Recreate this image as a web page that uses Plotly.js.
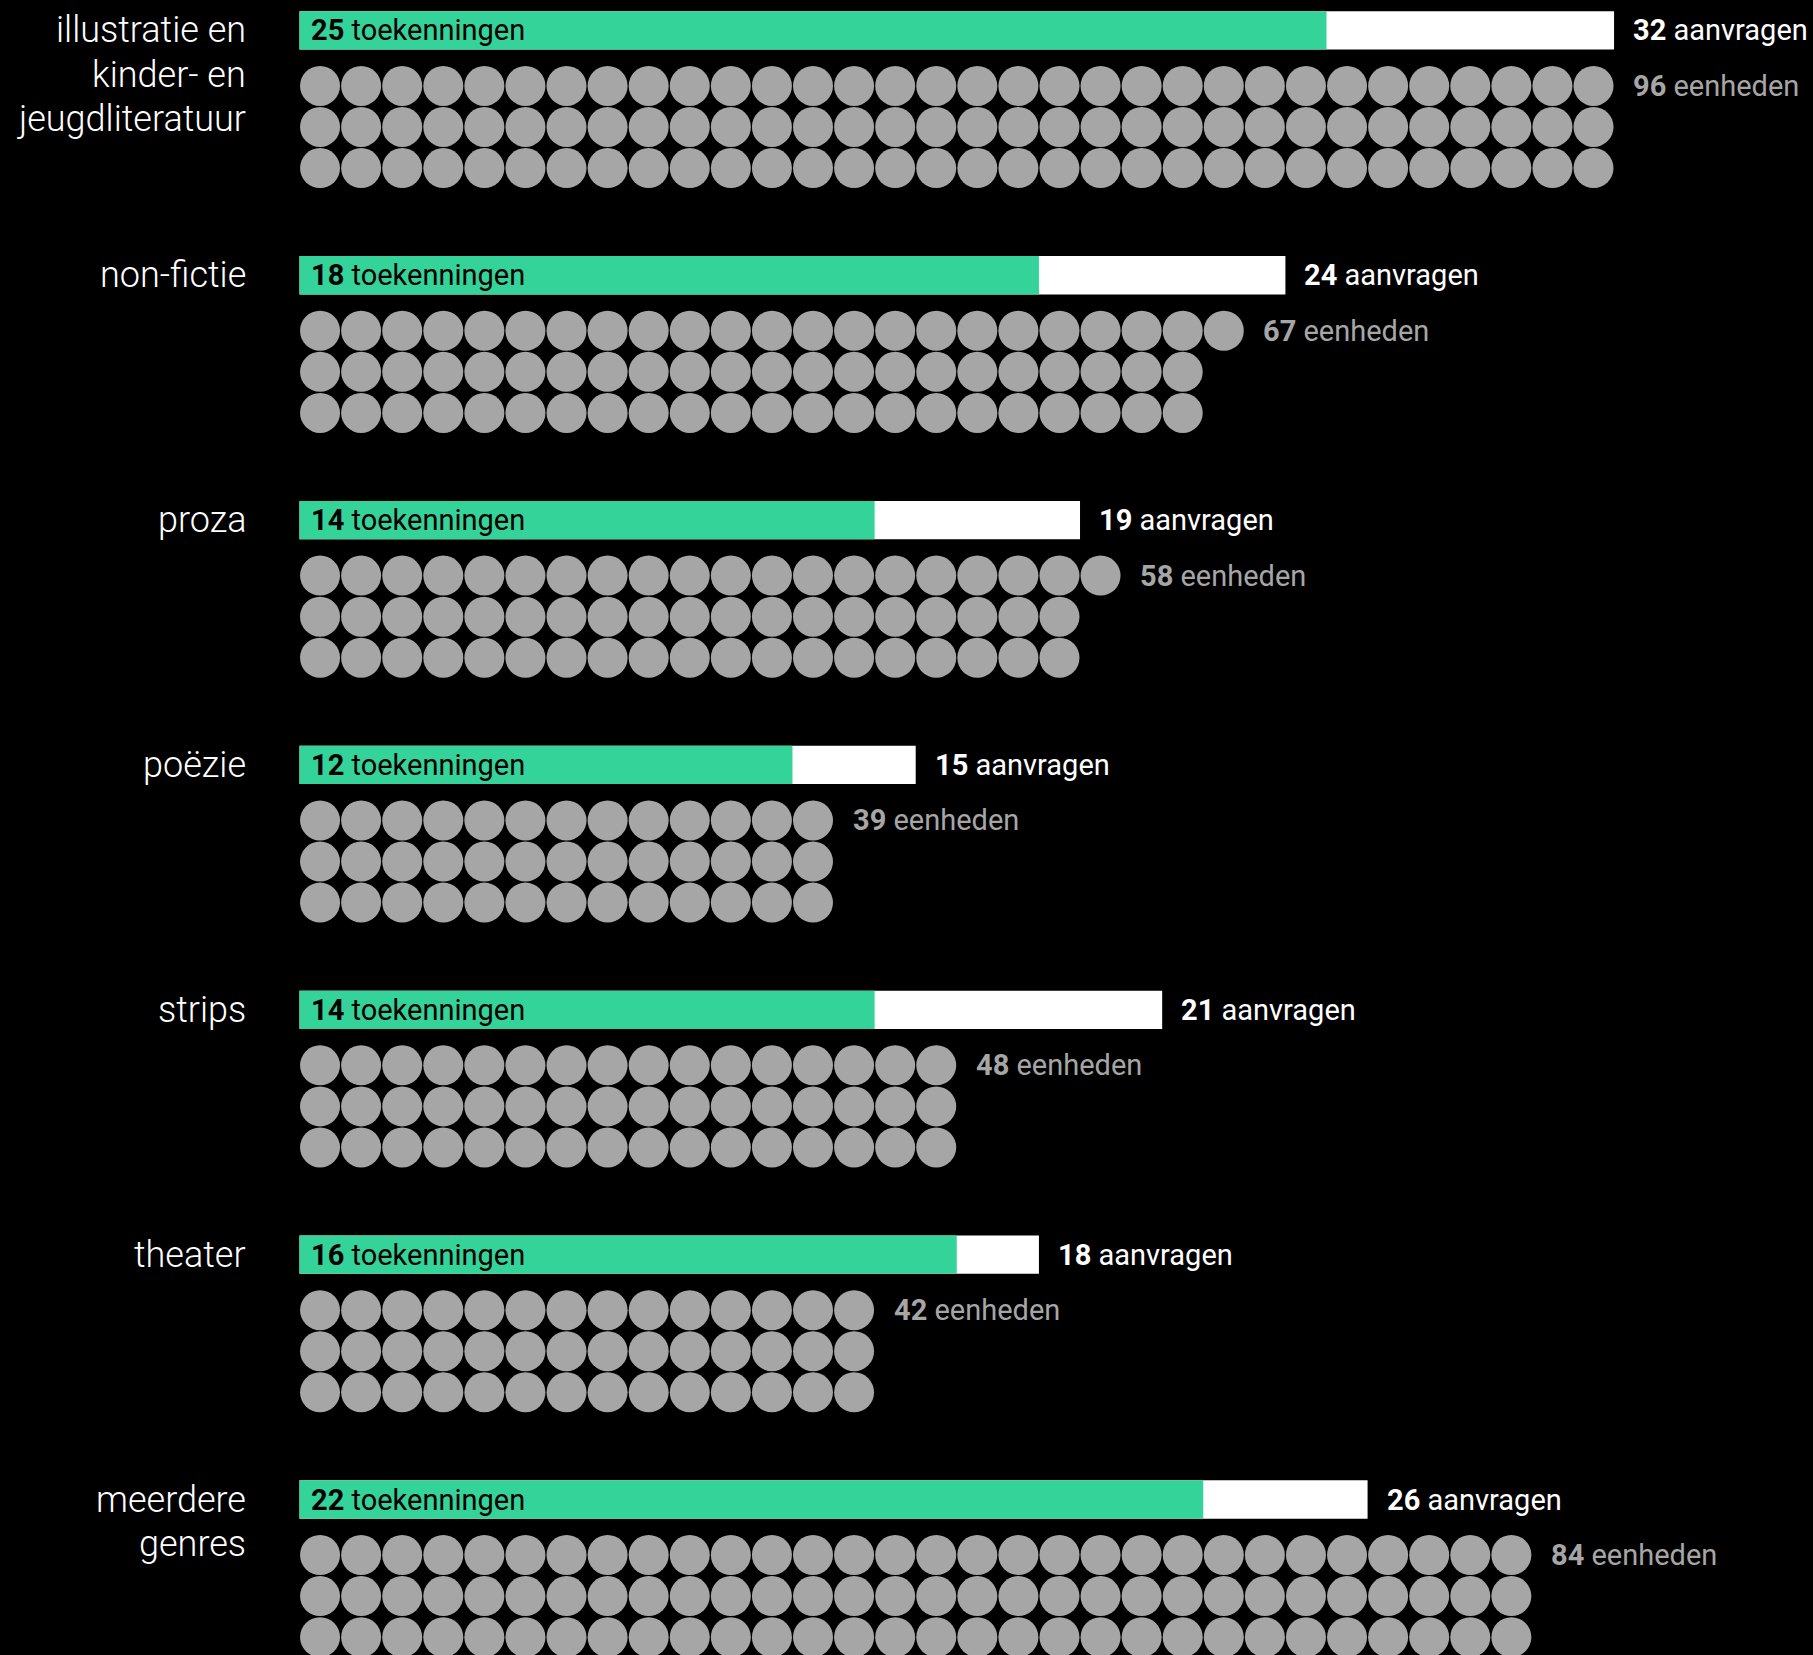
<!DOCTYPE html>
<html>
<head>
<meta charset="utf-8">
<script src="https://cdn.plot.ly/plotly-3.0.1.min.js"></script>
<style>
  html, body { margin: 0; padding: 0; background: #000; }
  #chart { width: 1813px; height: 1655px; }
</style>
</head>
<body>
<div id="chart"></div>
<script>
// ---- data ----
const categories = [
  ["illustratie en", "kinder- en", "jeugdliteratuur"],
  ["non-fictie"],
  ["proza"],
  ["poëzie"],
  ["strips"],
  ["theater"],
  ["meerdere", "genres"]
];
const toekenningen = [25, 18, 14, 12, 14, 16, 22];
const aanvragen = [32, 24, 19, 15, 21, 18, 26];
const eenheden = [96, 67, 58, 39, 48, 42, 84];
// circles as drawn in the picture (the last group shows 30 columns of 3)
const circleCounts = [96, 67, 58, 39, 48, 42, 90];

// ---- layout constants ----
const W = 1813, H = 1655;
const PITCH = 41.08;          // px per unit
const X0 = 299.5;             // px of value 0
const Y0 = 30.4;              // px of first bar centre
const GROUP = 244.85 / PITCH; // group spacing in units
const ROW0 = 55.5 / PITCH;    // first circle row below bar centre
const BARH = 38.3 / PITCH;
const ROWS = 3;
const GAP = 18 / PITCH;
const INNER = 10 / PITCH;
const CAT_X = (247 - X0) / PITCH;
const LINE = 44.5 / PITCH;

const GREEN = "#34D399";
const GREY = "#a6a6a6";
const FONT = 'Roboto, "Liberation Sans", sans-serif';
const LABEL_SIZE = 29;

const centers = categories.map((c, i) => i * GROUP);

const traces = [];
traces.push({
  type: "bar", orientation: "h",
  x: aanvragen, y: centers, width: BARH, base: 0,
  marker: { color: "#ffffff", line: { width: 0 } },
  hoverinfo: "skip"
});
traces.push({
  type: "bar", orientation: "h",
  x: toekenningen, y: centers, width: BARH, base: 0,
  marker: { color: GREEN, line: { width: 0 } },
  hoverinfo: "skip"
});

const cx = [], cy = [];
circleCounts.forEach((n, g) => {
  for (let k = 0; k < n; k++) {
    const col = Math.floor(k / ROWS), row = k % ROWS;
    cx.push(col + 0.5);
    cy.push(centers[g] + ROW0 + row);
  }
});
traces.push({
  type: "scatter", mode: "markers", x: cx, y: cy,
  marker: { size: 40, color: GREY, line: { width: 0 } },
  hoverinfo: "skip", cliponaxis: false
});

const annotations = [];
categories.forEach((lines, g) => {
  lines.forEach((t, li) => {
    annotations.push({
      x: CAT_X, y: centers[g] + li * LINE, xref: "x", yref: "y",
      text: t, showarrow: false, xanchor: "right", yanchor: "middle",
      borderpad: 0,
      font: { family: FONT, size: 36, color: "#ffffff", weight: 300 }
    });
  });
  annotations.push({
    x: INNER, y: centers[g], xref: "x", yref: "y",
    text: "<b>" + toekenningen[g] + "</b> toekenningen",
    showarrow: false, xanchor: "left", yanchor: "middle", borderpad: 0,
    font: { family: FONT, size: LABEL_SIZE, color: "#000000" }
  });
  annotations.push({
    x: aanvragen[g] + GAP, y: centers[g], xref: "x", yref: "y",
    text: "<b>" + aanvragen[g] + "</b> aanvragen",
    showarrow: false, xanchor: "left", yanchor: "middle", borderpad: 0,
    font: { family: FONT, size: LABEL_SIZE, color: "#ffffff" }
  });
  const cols = Math.ceil(circleCounts[g] / ROWS);
  annotations.push({
    x: cols + GAP, y: centers[g] + ROW0, xref: "x", yref: "y",
    text: "<b>" + eenheden[g] + "</b> eenheden",
    showarrow: false, xanchor: "left", yanchor: "middle", borderpad: 0,
    font: { family: FONT, size: LABEL_SIZE, color: GREY }
  });
});

const layout = {
  width: W, height: H,
  margin: { l: 0, r: 0, t: 0, b: 0, pad: 0 },
  paper_bgcolor: "#000000", plot_bgcolor: "#000000",
  showlegend: false, barmode: "overlay",
  xaxis: { range: [-X0 / PITCH, (W - X0) / PITCH], visible: false, fixedrange: true },
  yaxis: { range: [(H - Y0) / PITCH, -Y0 / PITCH], visible: false, fixedrange: true },
  annotations: annotations,
  hovermode: false
};

Plotly.newPlot("chart", traces, layout, { staticPlot: true, displayModeBar: false });
</script>
</body>
</html>
